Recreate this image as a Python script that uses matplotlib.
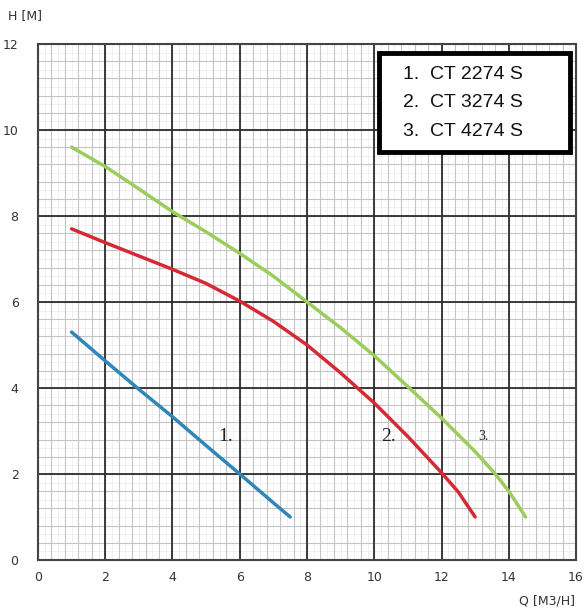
import numpy as np
import matplotlib.pyplot as plt
from matplotlib.patches import Rectangle

# datos
q_1 = [1, 2, 3, 4, 5, 6, 7, 7.5]
h_1 = [5.3, 4.63, 3.97, 3.33, 2.66, 2.0, 1.33, 1.0]

q_2 = [1, 2, 3, 4, 5, 6, 7, 8, 9, 10, 11, 11.5, 12, 12.5, 13]
h_2 = [7.7, 7.38, 7.07, 6.76, 6.43, 6.02, 5.55, 5.0, 4.35, 3.65, 2.87, 2.45, 2.03, 1.58, 1.0]

q_3 = [1, 2, 3, 4, 5, 6, 7, 8, 9, 10, 11, 12, 13, 13.6, 14, 14.5]
h_3 = [9.6, 9.15, 8.63, 8.1, 7.63, 7.13, 6.6, 6.0, 5.4, 4.75, 4.03, 3.3, 2.52, 2.0, 1.6, 1.0]

modelos = ["1.  CT 2274 S", "2.  CT 3274 S", "3.  CT 4274 S"]
etiquetas = ["1.", "2.", "3."]
pos_etiquetas = [(5.35, 2.86), (10.2, 2.86), (13.1, 2.86)]
colores = ["#2f86b8", "#d42a35", "#9acd5c"]

fig = plt.figure(figsize=(5.87, 6.09), dpi=100)
ax = fig.add_axes([0.0647, 0.0805, 0.9166, 0.8473])
ax.set_xlim(0, 16)
ax.set_ylim(0, 12)

# rejilla tipo papel milimetrado
for v in np.arange(0, 16.01, 0.2):
    ax.axvline(v, color="#ececec", lw=0.5, zorder=0)
for v in np.arange(0, 12.01, 0.2):
    ax.axhline(v, color="#ececec", lw=0.5, zorder=0)
for v in np.arange(0, 16.01, 0.4):
    ax.axvline(v, color="#c4c4c4", lw=0.8, zorder=0)
for v in np.arange(0, 12.01, 0.4):
    ax.axhline(v, color="#c4c4c4", lw=0.8, zorder=0)
for v in range(0, 17, 2):
    ax.axvline(v, color="#2e2e2e", lw=1.3, zorder=1)
for v in range(0, 13, 2):
    ax.axhline(v, color="#2e2e2e", lw=1.3, zorder=1)

for s in ax.spines.values():
    s.set_color("#444444")
    s.set_linewidth(1.5)

ax.set_xticks(range(0, 17, 2))
ax.set_yticks(range(0, 13, 2))
ax.tick_params(length=0, labelsize=9, colors="#333333", pad=8)
ax.tick_params(axis="y", pad=14)

# curvas
for q, h, c in zip([q_1, q_2, q_3], [h_1, h_2, h_3], colores):
    ax.plot(q, h, color=c, lw=2.5, solid_capstyle="round", solid_joinstyle="round", zorder=3)

for t, (x, y), fs in zip(etiquetas, pos_etiquetas, [14, 14, 10]):
    ax.text(x, y, t, family="Liberation Serif", fontsize=fs, color="#222222",
            va="center", zorder=4)

# cuadro de modelos
ax.add_patch(Rectangle((10.13, 9.49), 5.7, 2.31, facecolor="white",
                       edgecolor="black", lw=3.5, zorder=5))
for i, m in enumerate(modelos):
    ax.text(10.85, 11.3 - i * 0.67, m, family="Liberation Sans", fontsize=14,
            color="#111111", va="center", zorder=6)

fig.text(8 / 587, 1 - 16 / 609, "H [M]", fontsize=9, color="#333333", va="center")
fig.text(575 / 587, 1 - 601 / 609, "Q [M3/H]", fontsize=9, color="#333333",
         va="center", ha="right")

fig.savefig("out.png", dpi=100)
